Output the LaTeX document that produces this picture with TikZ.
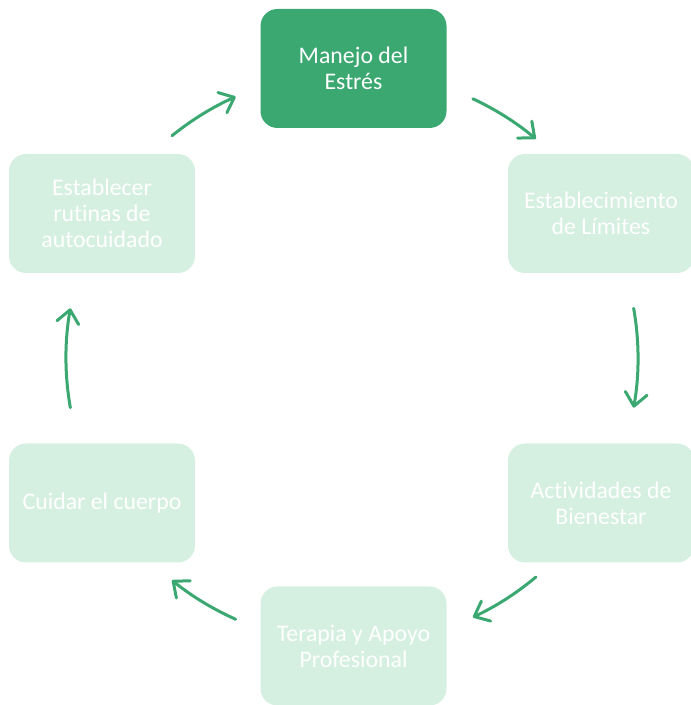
\documentclass[tikz,border=0pt]{standalone}
\usepackage{fontspec}
\setmainfont{Carlito}[Ligatures=NoCommon]
\usetikzlibrary{arrows.meta}
\definecolor{estgreen}{HTML}{3AA870}
\definecolor{estmint}{HTML}{D5F0E1}

\begin{document}
\begin{tikzpicture}[x=1pt,y=1pt,
  paso/.style={rounded corners=17pt,minimum width=186pt,minimum height=119pt,
    align=center,text=white,font=\fontsize{23.8}{26}\selectfont,inner sep=0pt},
  flow/.style={estgreen,line width=3pt,line cap=round,
    -{Straight Barb[length=13pt,width=22pt,round]}}]
  \useasboundingbox (0,0) rectangle (691,705);
  \coordinate (hub) at (352,347);
  % steps of the cycle
  \node[paso,fill=estgreen] (manejo) at (353.5,636.5) {Manejo del\\Estrés};
  \node[paso,fill=estmint] (limites) at (601,491.5) {Establecimiento\\de Límites};
  \node[paso,fill=estmint] (bienestar) at (601,202) {Actividades de\\Bienestar};
  \node[paso,fill=estmint] (terapia) at (353.5,59) {Terapia y Apoyo\\Profesional};
  \node[paso,fill=estmint] (cuerpo) at (102,202) {Cuidar el cuerpo};
  \node[paso,fill=estmint] (rutinas) at (102,491.5) {Establecer\\rutinas de\\autocuidado};
  % arrows round the hub
  \foreach \a/\b in {65/50,10/-10,-50/-65,-114/-129,190/170,129/114}
    \draw[flow] ([shift={(\a:286)}]hub) arc[start angle=\a,end angle=\b,radius=286];
\end{tikzpicture}
\end{document}
